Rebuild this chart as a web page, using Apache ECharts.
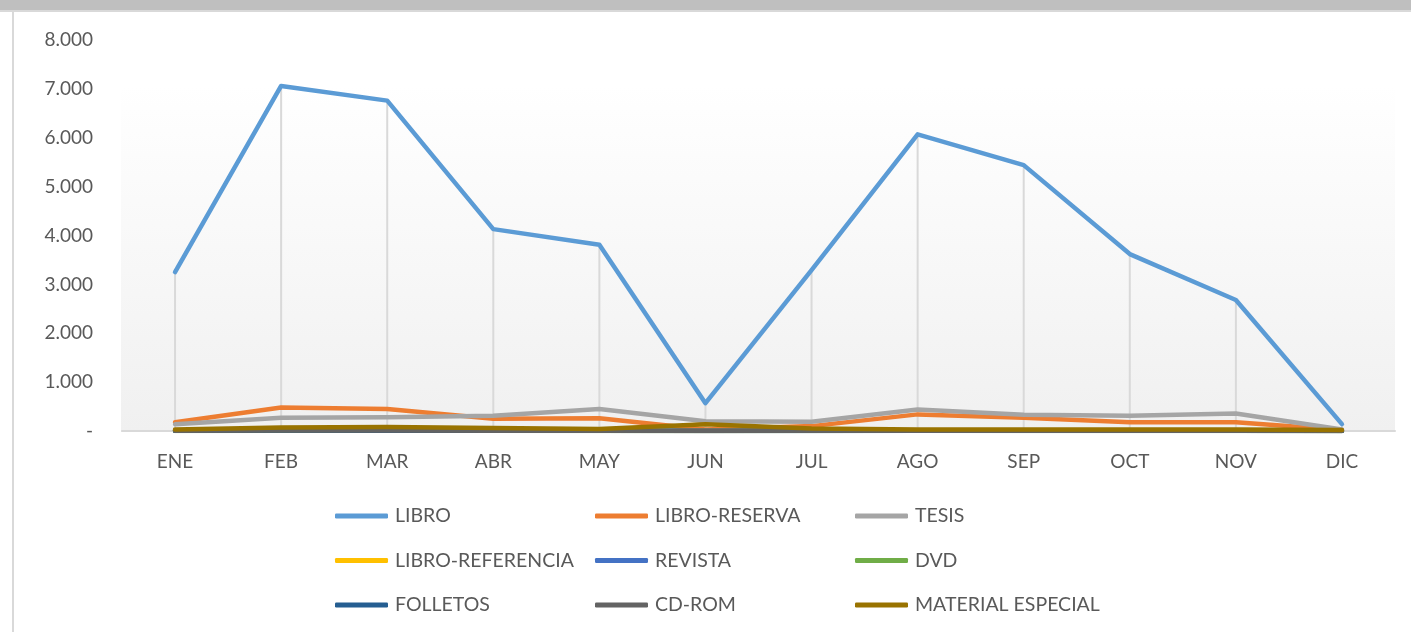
<!DOCTYPE html>
<html>
<head>
<meta charset="utf-8">
<script src="https://cdn.jsdelivr.net/npm/echarts@6/dist/echarts.min.js"></script>
<style>
  html, body { margin: 0; padding: 0; background: #fff; }
  #chart { width: 1411px; height: 632px; }
</style>
</head>
<body>
<div id="chart"></div>
<script>
// meses
const months = ['ENE', 'FEB', 'MAR', 'ABR', 'MAY', 'JUN', 'JUL', 'AGO', 'SEP', 'OCT', 'NOV', 'DIC']

// valores
const libro = [3250, 7060, 6760, 4130, 3810, 570, 3290, 6070, 5440, 3620, 2680, 140]
const libroReserva = [180, 480, 450, 250, 260, 30, 100, 340, 270, 180, 180, 20]
const tesis = [140, 270, 280, 310, 450, 200, 190, 440, 330, 310, 360, 30]
const libroReferencia = [5, 10, 8, 6, 5, 2, 3, 6, 5, 4, 4, 1]
const revista = [3, 6, 5, 4, 4, 1, 2, 4, 3, 3, 3, 1]
const dvd = [2, 4, 3, 3, 2, 1, 1, 3, 2, 2, 2, 0]
const folletos = [4, 8, 7, 5, 4, 2, 3, 5, 4, 4, 3, 1]
const cdRom = [6, 10, 9, 7, 6, 3, 4, 7, 6, 5, 5, 1]
const materialEspecial = [30, 70, 80, 60, 40, 140, 50, 30, 30, 30, 30, 20]

const yTicks = { min: 0, max: 8000, interval: 1000 }

const seriesDefs = [
  { name: 'LIBRO', data: libro, color: '#5b9bd5' },
  { name: 'LIBRO-RESERVA', data: libroReserva, color: '#ed7d31' },
  { name: 'TESIS', data: tesis, color: '#a5a5a5' },
  { name: 'LIBRO-REFERENCIA', data: libroReferencia, color: '#ffc000' },
  { name: 'REVISTA', data: revista, color: '#4472c4' },
  { name: 'DVD', data: dvd, color: '#70ad47' },
  { name: 'FOLLETOS', data: folletos, color: '#255e91' },
  { name: 'CD-ROM', data: cdRom, color: '#636363' },
  { name: 'MATERIAL ESPECIAL', data: materialEspecial, color: '#997300' }
]

// líneas de proyección: desde el punto más alto de cada mes hasta el eje
const dropTop = months.map((m, i) => Math.max(...seriesDefs.map((s) => s.data[i])))

const fontFamily = 'Lato, "Liberation Sans", sans-serif'
const textColor = '#595959'

const fmt = (v) => (v === 0 ? '-' : String(v).replace(/\B(?=(\d{3})+(?!\d))/g, '.'))

const legendBase = {
  orient: 'vertical',
  top: 501,
  itemGap: 24.5,
  itemWidth: 53,
  itemHeight: 5,
  icon: 'roundRect',
  textStyle: { fontFamily, fontSize: 19.5, color: textColor, padding: [0, 0, 0, 2] }
}

const chart = echarts.init(document.getElementById('chart'))
chart.setOption({
  animation: false,
  graphic: [
    { type: 'rect', z: -10, shape: { x: 0, y: 0, width: 1411, height: 10 }, style: { fill: '#bfbfbf' } },
    { type: 'rect', z: -10, shape: { x: 0, y: 10, width: 1411, height: 2 }, style: { fill: '#d9d9d9' } },
    { type: 'rect', z: -10, shape: { x: 12, y: 10, width: 2, height: 622 }, style: { fill: '#d9d9d9' } },
    {
      type: 'rect',
      z: -10,
      shape: { x: 121, y: 85, width: 1274, height: 347 },
      style: {
        fill: new echarts.graphic.LinearGradient(0, 0, 0, 1, [
          { offset: 0, color: '#ffffff' },
          { offset: 1, color: '#f0f0f0' }
        ])
      }
    }
  ],
  grid: { left: 122, right: 16, top: 40, bottom: 201 },
  legend: [
    { ...legendBase, left: 330, data: ['LIBRO', 'LIBRO-REFERENCIA', 'FOLLETOS'] },
    { ...legendBase, left: 590, data: ['LIBRO-RESERVA', 'REVISTA', 'CD-ROM'] },
    { ...legendBase, left: 850, data: ['TESIS', 'DVD', 'MATERIAL ESPECIAL'] }
  ],
  xAxis: {
    type: 'category',
    data: months,
    boundaryGap: true,
    axisLine: { lineStyle: { color: '#d9d9d9', width: 2 } },
    axisTick: { show: false },
    axisLabel: { fontFamily, fontSize: 19, color: textColor, margin: 21 },
    splitLine: { show: false }
  },
  yAxis: {
    type: 'value',
    ...yTicks,
    axisLine: { show: false },
    axisTick: { show: false },
    splitLine: { show: false },
    axisLabel: { fontFamily, fontSize: 19, color: textColor, margin: 29, formatter: fmt }
  },
  series: [
    {
      type: 'bar',
      name: 'drop',
      silent: true,
      barWidth: 2,
      itemStyle: { color: '#d9d9d9' },
      data: dropTop
    },
    ...seriesDefs.map((s) => ({
      type: 'line',
      name: s.name,
      data: s.data,
      symbol: 'none',
      color: s.color,
      lineStyle: { width: 4.5, color: s.color, cap: 'round', join: 'round' },
      emphasis: { disabled: true }
    }))
  ]
})
</script>
</body>
</html>
